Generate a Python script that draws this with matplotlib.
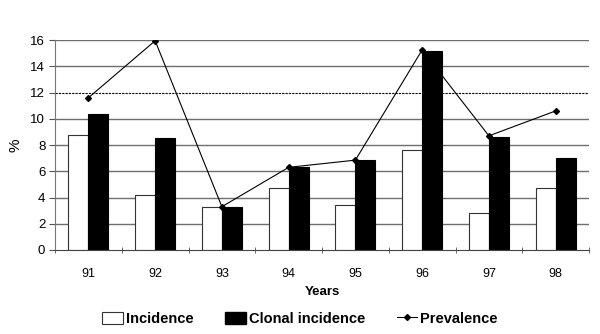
import numpy as np
import matplotlib
matplotlib.use("Agg")
import matplotlib.pyplot as plt
from matplotlib.lines import Line2D

plt.rcParams['font.family'] = ['Liberation Sans', 'DejaVu Sans']

years = ["91", "92", "93", "94", "95", "96", "97", "98"]
incidence = [8.8, 4.2, 3.3, 4.75, 3.45, 7.6, 2.85, 4.75]
clonal = [10.35, 8.55, 3.3, 6.3, 6.85, 15.2, 8.65, 7.05]
prevalence = [11.6, 15.95, 3.3, 6.3, 6.85, 15.25, 8.7, 10.6]

x = np.arange(len(years))
w = 0.3

fig = plt.figure(figsize=(6, 3.34), dpi=100)
ax = fig.add_axes([0.0917, 0.2515, 0.89, 0.6285])

# horizontal grid, 12 is drawn dotted like in the original
for v in range(2, 17, 2):
    if v == 12:
        ax.axhline(v, color="black", lw=0.8, ls=(0, (2, 1)), zorder=0)
    else:
        ax.axhline(v, color="#6e6e6e", lw=1.0, zorder=0)

ax.bar(x - w/2, incidence, w, color="white", edgecolor="#333333", lw=0.8, label="Incidence", zorder=2)
ax.bar(x + w/2, clonal, w, color="black", edgecolor="black", lw=0.8, label="Clonal incidence", zorder=2)
ax.plot(x, prevalence, color="black", lw=0.8, marker="D", ms=3, zorder=3)

ax.set_xlim(-0.5, len(years) - 0.5)
ax.set_ylim(0, 16)
ax.set_yticks(range(0, 17, 2))
ax.set_xticks(x)
ax.set_xticklabels(years)
ax.set_xticks(np.arange(-0.5, len(years)), minor=True)
ax.tick_params(axis="x", which="major", length=0, pad=13, labelsize=9)
ax.tick_params(axis="x", which="minor", length=5, direction="inout", color="#555555")
ax.tick_params(axis="y", length=4, color="#555555", labelsize=9.5, pad=3)

for s in ["top", "right"]:
    ax.spines[s].set_visible(False)
ax.spines["left"].set_color("#777777")
ax.spines["bottom"].set_color("#444444")

ax.set_xlabel("Years", fontweight="bold", fontsize=9.5, labelpad=4)
ax.set_ylabel("%", fontsize=11, labelpad=6)

handles = [
    plt.Rectangle((0, 0), 1, 1, facecolor="white", edgecolor="#333333", lw=0.8),
    plt.Rectangle((0, 0), 1, 1, facecolor="black", edgecolor="black"),
    Line2D([0], [0], color="black", lw=0.8, marker="D", ms=3),
]
fig.legend(handles, ["Incidence", "Clonal incidence", "Prevalence"],
           loc="lower center", bbox_to_anchor=(0.5, -0.015), ncol=3, frameon=False,
           prop={"weight": "bold", "size": 10.5}, handlelength=1.4, handleheight=0.9,
           handletextpad=0.2, columnspacing=2.2)

fig.savefig("out.png", dpi=100)
